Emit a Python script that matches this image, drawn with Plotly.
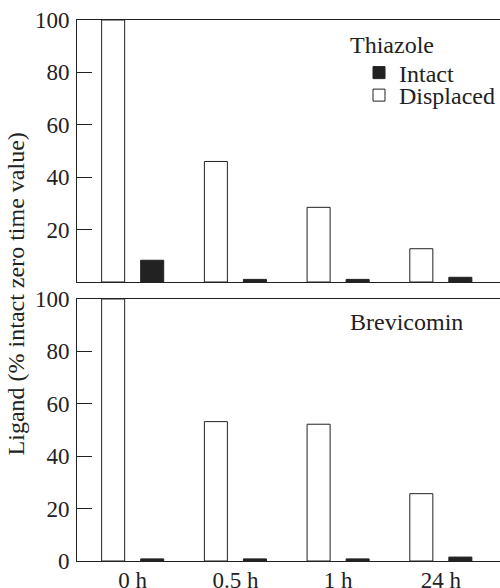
import plotly.graph_objects as go

categories = ["0 h", "0.5 h", "1 h", "24 h"]
thiazole_displaced = [100, 46, 28.5, 12.7]
thiazole_intact = [8.3, 1.0, 1.0, 1.8]
brevicomin_displaced = [100, 53.2, 52.2, 25.7]
brevicomin_intact = [0.8, 0.8, 0.8, 1.5]
ticks_top = [20, 40, 60, 80, 100]
ticks_bottom = [0, 20, 40, 60, 80, 100]

FONT = "Liberation Serif, Times New Roman, serif"
INK = "#222222"
FS = 24
TFS = 23
F = dict(family=FONT, size=FS, color=INK)
TF = dict(family=FONT, size=TFS, color=INK)

fig = go.Figure()
fig.add_trace(go.Bar(x=categories, y=thiazole_displaced, name="Displaced",
                     marker=dict(color="white", line=dict(color=INK, width=1)),
                     xaxis="x", yaxis="y", showlegend=True, legend="legend2"))
fig.add_trace(go.Bar(x=categories, y=thiazole_intact, name="Intact",
                     marker=dict(color=INK, line=dict(color=INK, width=1)),
                     xaxis="x", yaxis="y", showlegend=True, legend="legend"))
fig.add_trace(go.Bar(x=categories, y=brevicomin_displaced, name="Displaced",
                     marker=dict(color="white", line=dict(color=INK, width=1)),
                     xaxis="x2", yaxis="y2", showlegend=False))
fig.add_trace(go.Bar(x=categories, y=brevicomin_intact, name="Intact",
                     marker=dict(color=INK, line=dict(color=INK, width=1)),
                     xaxis="x2", yaxis="y2", showlegend=False))

xr = [-0.542, 3.576]
common_x = dict(range=xr, showline=True, mirror=True, linecolor=INK, linewidth=1,
                ticks="", showgrid=False, zeroline=False, type="category",
                automargin=False, tickfont=TF)
common_y = dict(range=[0, 100], showline=True, linecolor=INK, linewidth=1,
                ticks="inside", ticklen=15, tickcolor=INK, tickwidth=1,
                showgrid=False, zeroline=False, automargin=False, tickfont=TF,
                ticklabelstandoff=2)

leg = dict(xanchor="left", yanchor="middle", bgcolor="rgba(0,0,0,0)", font=F)

fig.update_layout(
    width=500, height=588,
    margin=dict(l=77, r=0, t=20, b=27, autoexpand=False),
    paper_bgcolor="white", plot_bgcolor="white",
    font=F,
    barmode="group", bargap=0.24, bargroupgap=0.41,
    xaxis=dict(domain=[0, 1], anchor="y", showticklabels=False, **common_x),
    yaxis=dict(domain=[0.5157, 1], anchor="x", tickvals=ticks_top, **common_y),
    xaxis2=dict(domain=[0, 1], anchor="y2", showticklabels=True,
                ticklabelstandoff=-2, **common_x),
    yaxis2=dict(domain=[0, 0.4843], anchor="x2", tickvals=ticks_bottom, **common_y),
    legend=dict(x=0.6667, y=0.902, **leg),
    legend2=dict(x=0.6667, y=0.8604, **leg),
    annotations=[
        dict(text="Thiazole", xref="paper", yref="paper", x=0.6407, y=0.954,
             xanchor="left", yanchor="middle", showarrow=False, font=F),
        dict(text="Brevicomin", xref="paper", yref="paper", x=0.6407, y=0.4409,
             xanchor="left", yanchor="middle", showarrow=False, font=F),
        dict(text="Ligand (% intact zero time value)", xref="paper", yref="paper",
             x=-0.142, y=0.4945, xanchor="center", yanchor="middle",
             textangle=-90, showarrow=False, font=F),
    ],
)

fig.write_html("out.html", config={"displayModeBar": False},
               post_script="document.body.style.margin='0';document.body.style.overflow='hidden';")
